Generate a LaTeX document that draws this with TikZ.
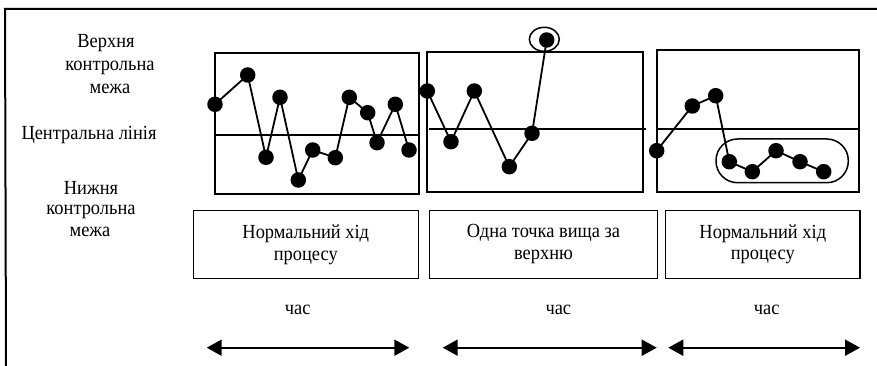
\documentclass[tikz,border=0pt]{standalone}
\usepackage{fontspec}
\setmainfont[FakeStretch=0.92]{Liberation Serif}
\usetikzlibrary{arrows.meta,shapes.geometric}
\begin{document}
\begin{tikzpicture}[x=1pt,y=-1pt,
  dot/.style={circle,fill=black,inner sep=0pt,minimum size=15.5pt},
  link/.style={line width=1.8pt},
  panel/.style={draw,line width=1.8pt},
  cline/.style={line width=1.2pt},
  lbl/.style={font=\fontsize{20}{22}\selectfont,inner sep=0pt,text height=13.5pt,text depth=4pt},
  textbox/.style={draw,line width=1.5pt,font=\fontsize{20}{21.7}\selectfont,align=center,minimum height=68pt,inner sep=0pt},
  timearrow/.style={line width=2pt,{Triangle[length=15pt,width=16pt]}-{Triangle[length=15pt,width=16pt]}},
  frame/.style={line width=2pt}
]
\useasboundingbox (0,0) rectangle (877,366);
% outer frame
\coordinate (fa) at (5,9);
\coordinate (fb) at (877,9);
\coordinate (fc) at (6,366);
\draw[frame] (fb) -- (fa) -- (fc);

% left labels
\node[lbl] (u1) at (106,43) {Верхня};
\node[lbl] (u2) at (110,65.7) {контрольна};
\node[lbl] (u3) at (110,89) {межа};
\node[lbl] (c1) at (89,134.7) {Центральна лінія};
\node[lbl] (l1) at (91,189.3) {Нижня};
\node[lbl] (l2) at (91,210) {контрольна};
\node[lbl] (l3) at (90,231.7) {межа};

% panel 1
\draw[panel] (215,52.7) rectangle (418.7,194);
\coordinate (m1a) at (215,135);
\coordinate (m1b) at (418.7,135);
\draw[cline] (m1a) -- (m1b);
\foreach \i/\x/\y in {1/215/104.3,2/247.7/75,3/266/157.3,4/280/97.3,5/298.3/180,6/312.7/150,7/335.3/157.7,8/349.3/97.3,9/367.7/112.7,10/377/142.7,11/395.3/104.3,12/409/150}
  \node[dot] (a\i) at (\x,\y) {};
\draw[link] (a1.center) -- (a2.center) -- (a3.center) -- (a4.center) -- (a5.center) -- (a6.center) -- (a7.center) -- (a8.center) -- (a9.center) -- (a10.center) -- (a11.center) -- (a12.center);

% panel 2
\draw[panel] (427.3,51.7) rectangle (642.7,192.3);
\coordinate (m2a) at (429,129);
\coordinate (m2b) at (646,129);
\draw[cline] (m2a) -- (m2b);
\foreach \i/\x/\y in {1/427.3/91,2/451/141.7,3/474.3/91,4/509.3/166.7,5/532/133.3,6/546.7/40}
  \node[dot] (b\i) at (\x,\y) {};
\draw[link] (b1.center) -- (b2.center) -- (b3.center) -- (b4.center) -- (b5.center) -- (b6.center);
\node[draw,line width=1.5pt,ellipse,minimum width=30pt,minimum height=24pt,inner sep=0pt] (b6ring) at (544.3,39.3) {};

% panel 3
\draw[panel] (656.7,50) rectangle (859.3,192.3);
\coordinate (m3a) at (656.7,129);
\coordinate (m3b) at (859.3,129);
\draw[cline] (m3a) -- (m3b);
\foreach \i/\x/\y in {1/656.7/150.7,2/692.3/106,3/715.7/95.7,4/729.3/161.7,5/752.3/171.7,6/776/150.7,7/800/161.7,8/823.7/171.7}
  \node[dot] (c\i) at (\x,\y) {};
\draw[link] (c1.center) -- (c2.center) -- (c3.center) -- (c4.center) -- (c5.center) -- (c6.center) -- (c7.center) -- (c8.center);
\draw[line width=1.5pt,rounded corners=21.5pt] (716,139) rectangle (848.3,182.7);

% text boxes
\node[textbox,minimum width=225pt] (t1) at (305.8,244.7) {Нормальний хід\\процесу};
\node[textbox,minimum width=228.4pt] (t2) at (543.5,244.3) {Одна точка вища за\\верхню};
\node[textbox,minimum width=194.3pt] (t3) at (762.8,244.3) {Нормальний хід\\процесу};

% time labels
\node[lbl] (h1) at (297.7,309.3) {час};
\node[lbl] (h2) at (558.3,309.3) {час};
\node[lbl] (h3) at (766.7,309.3) {час};

% arrows
\coordinate (r1l) at (206.7,347.7);
\coordinate (r1r) at (409.3,347.7);
\coordinate (r2l) at (442.7,347.7);
\coordinate (r2r) at (656.7,347.7);
\coordinate (r3l) at (668.3,347.7);
\coordinate (r3r) at (860,347.7);
\draw[timearrow] (r1l) -- (r1r);
\draw[timearrow] (r2l) -- (r2r);
\draw[timearrow] (r3l) -- (r3r);
\end{tikzpicture}
\end{document}
